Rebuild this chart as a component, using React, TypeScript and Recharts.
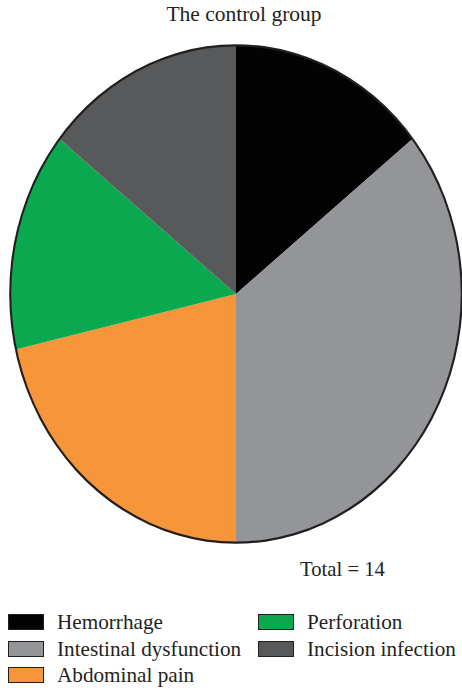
import { PieChart, Pie, Cell } from 'recharts';

const TITLE = 'The control group';
const CATEGORIES = ['Hemorrhage', 'Intestinal dysfunction', 'Abdominal pain', 'Perforation', 'Incision infection'];
const COUNTS = [2, 5, 3, 2, 2];
const COLORS = ['#040304', '#939598', '#f7953a', '#0aa94f', '#58595b'];

const TOTAL = COUNTS.reduce((a, b) => a + b, 0);
const data = CATEGORIES.map((name, i) => ({ name, value: COUNTS[i] }));
const ring = [{ name: 'total', value: TOTAL }];

const FONT = '"Liberation Serif", "DejaVu Serif", serif';
const SIZE = 500;
const R = 249;

export default function App() {
  return (
    <div
      style={{
        position: 'absolute', left: 0, top: 0, width: 462, height: 688,
        overflow: 'hidden', background: '#fff', fontFamily: FONT, color: '#231f20',
      }}
    >
      <div style={{ position: 'absolute', left: 0, width: 488, top: 2, textAlign: 'center', fontSize: 21.5, lineHeight: '25px' }}>
        {TITLE}
      </div>

      {/* pie is slightly squashed horizontally in the original */}
      <div
        style={{
          position: 'absolute', left: 236 - SIZE / 2, top: 294 - SIZE / 2,
          width: SIZE, height: SIZE,
          transform: 'scaleX(0.908)', transformOrigin: `${SIZE / 2}px ${SIZE / 2}px`,
        }}
      >
        <PieChart width={SIZE} height={SIZE} margin={{ top: 0, right: 0, bottom: 0, left: 0 }}>
          <Pie
            data={data}
            dataKey='value'
            cx={SIZE / 2} cy={SIZE / 2}
            outerRadius={R}
            startAngle={90} endAngle={-270}
            stroke='none'
            isAnimationActive={false}
          >
            {data.map((_, i) => (
              <Cell key={i} fill={COLORS[i]} />
            ))}
          </Pie>
          <Pie
            data={ring}
            dataKey='value'
            cx={SIZE / 2} cy={SIZE / 2}
            innerRadius={R - 1.5}
            outerRadius={R + 0.8}
            startAngle={90} endAngle={-270}
            fill='#231f20'
            stroke='none'
            isAnimationActive={false}
          />
        </PieChart>
      </div>

      <div style={{ position: 'absolute', left: 300, top: 557, fontSize: 20.7, lineHeight: '24px' }}>
        Total = {TOTAL}
      </div>

      <div
        style={{
          position: 'absolute', left: 8, top: 609,
          display: 'grid', gridTemplateRows: 'repeat(3, 26.5px)', gridAutoFlow: 'column',
          gridTemplateColumns: '250px 210px', fontSize: 21.2, lineHeight: '24px',
        }}
      >
        {CATEGORIES.map((name, i) => (
          <div key={name} style={{ display: 'flex', alignItems: 'center', whiteSpace: 'nowrap' }}>
            <span
              style={{
                display: 'inline-block', width: 34, height: 14, background: COLORS[i],
                border: '1px solid #231f20', marginRight: 13,
              }}
            />
            {name}
          </div>
        ))}
      </div>
    </div>
  );
}
